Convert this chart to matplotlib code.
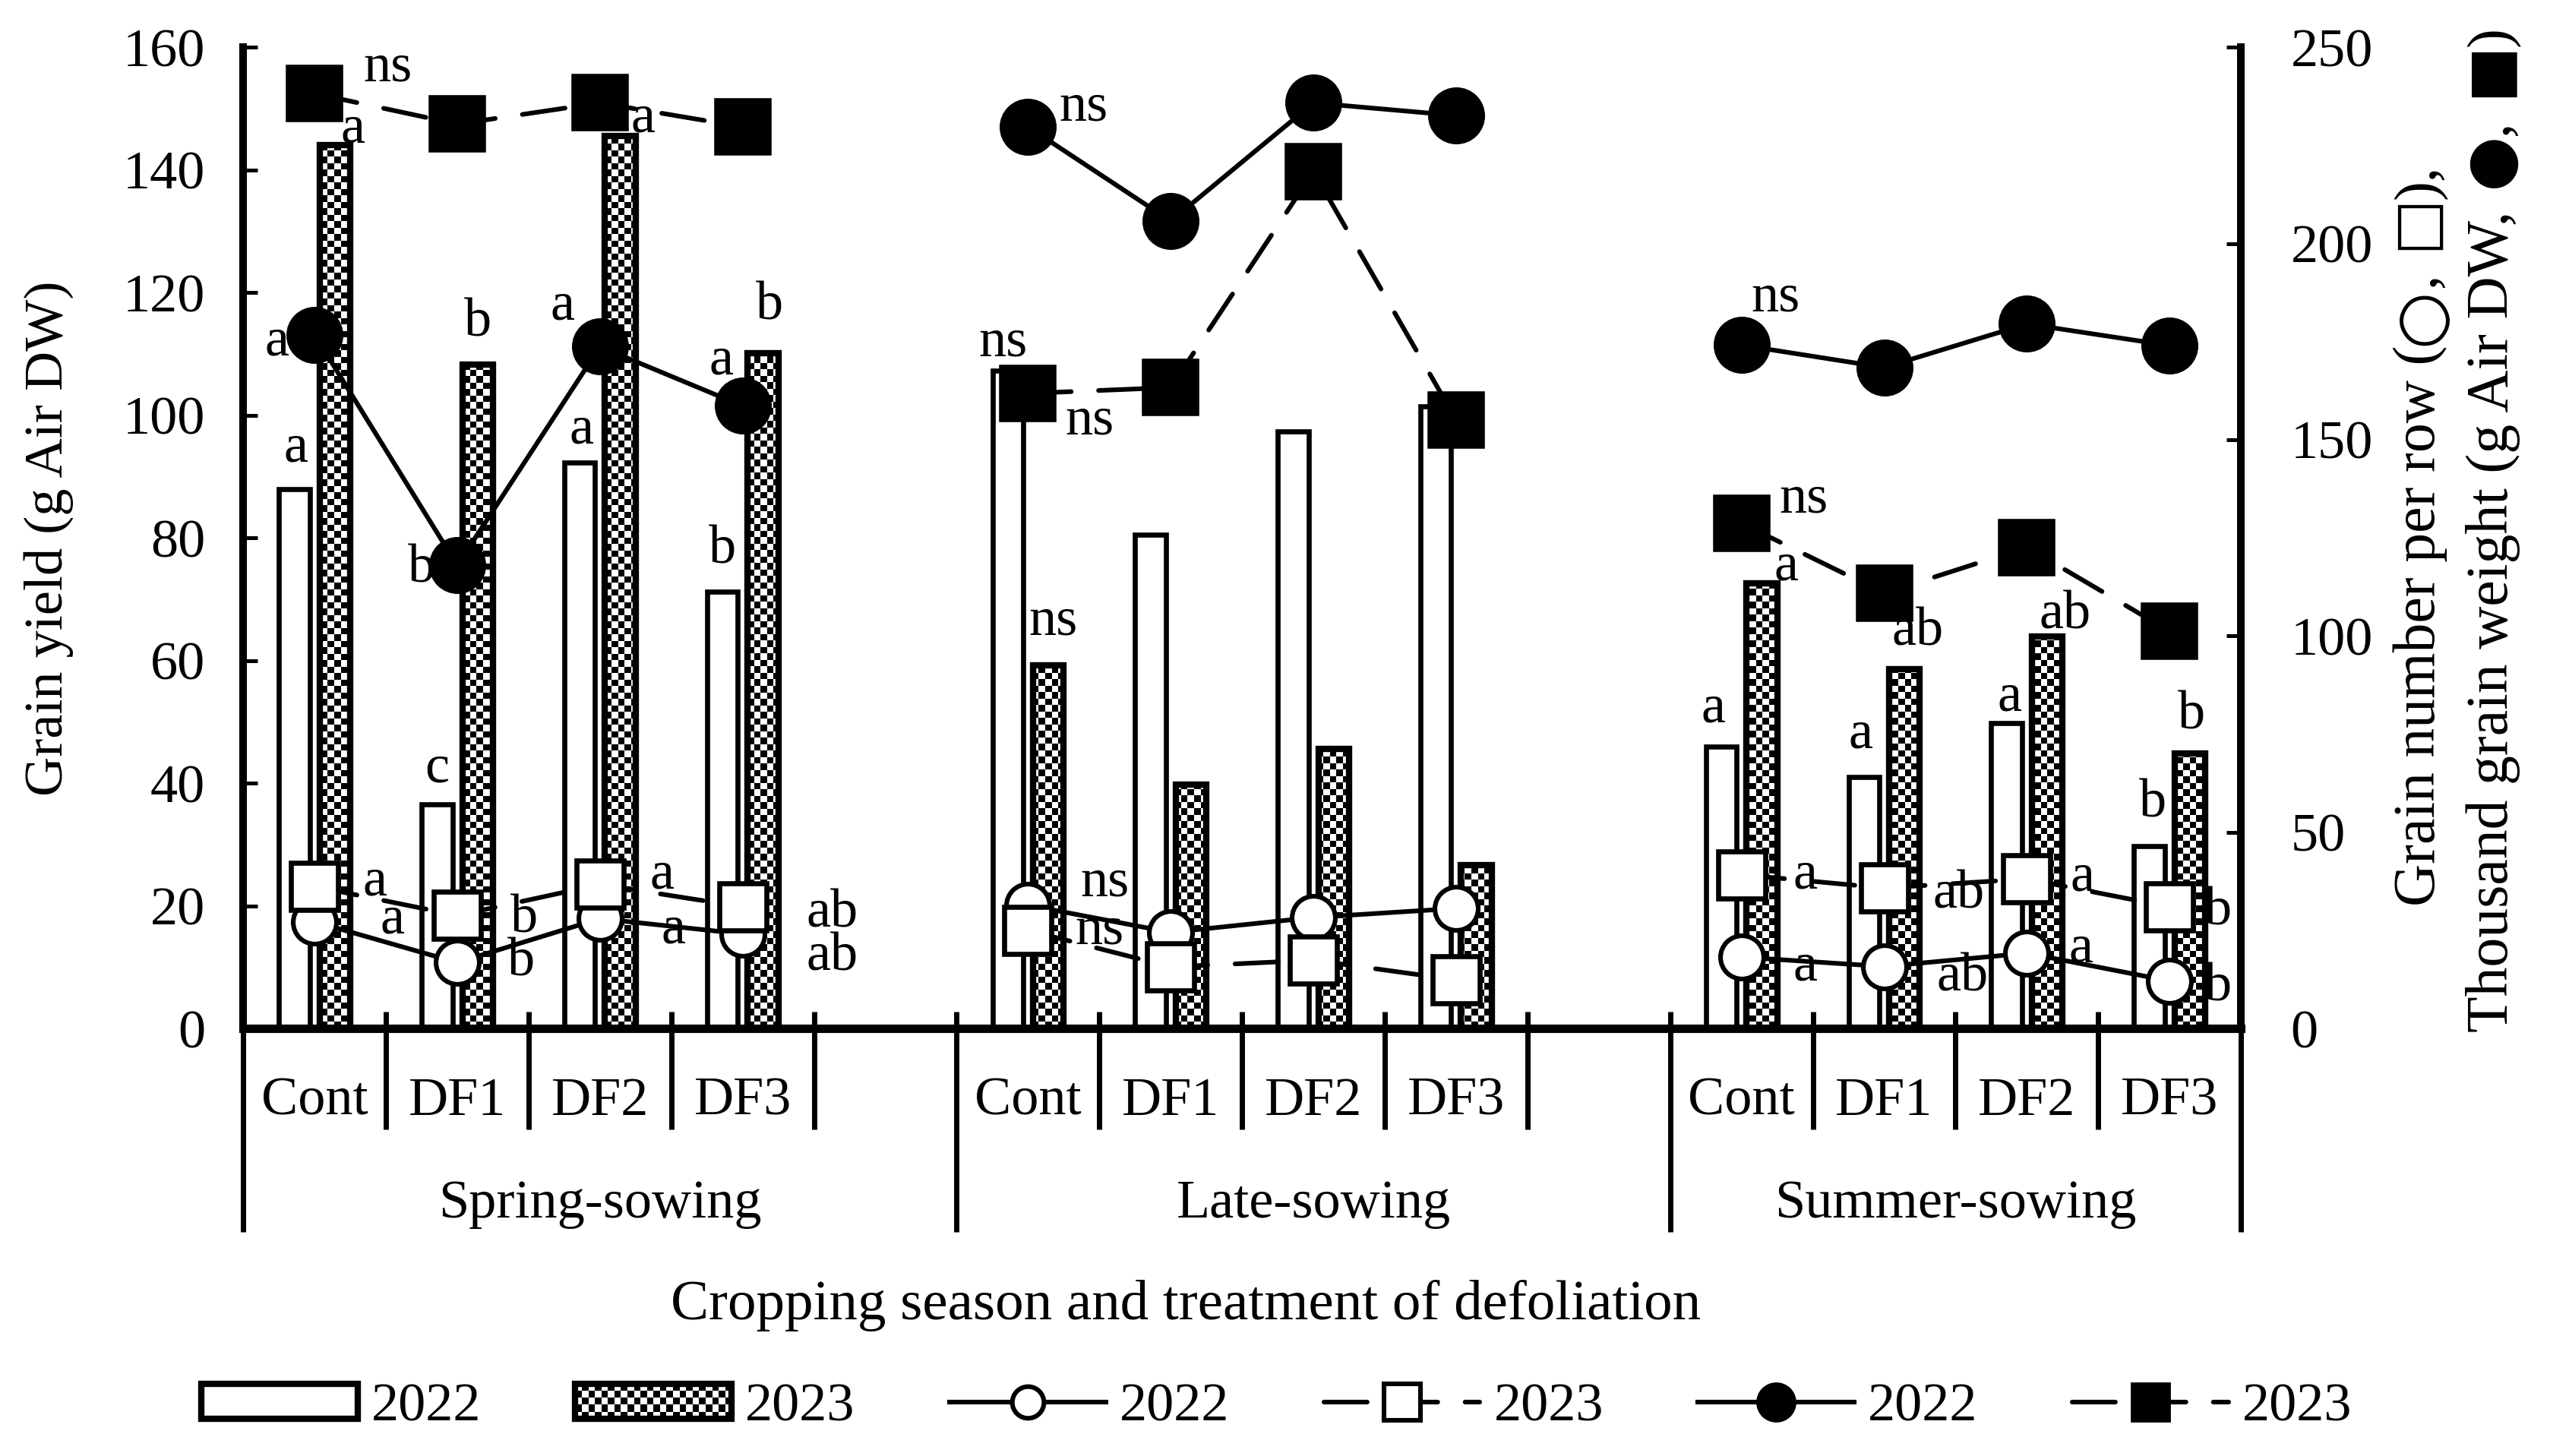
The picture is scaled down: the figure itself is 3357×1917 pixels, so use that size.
"""Grain yield (bars) with grain number per row and thousand grain weight (lines)
for three cropping seasons and four defoliation treatments, 2022 vs 2023."""
import matplotlib

matplotlib.use("Agg")

import matplotlib.pyplot as plt
import numpy as np
from matplotlib.legend_handler import HandlerBase
from matplotlib.lines import Line2D
from matplotlib.patches import Rectangle

# ---- data -------------------------------------------------------------------
GROUPS = ["Spring-sowing", "Late-sowing", "Summer-sowing"]
TREATMENTS = ["Cont", "DF1", "DF2", "DF3"]
YEARS = ["2022", "2023"]

# grain yield, g Air DW (left axis), order: Spring x4, Late x4, Summer x4
YIELD_2022 = [88.0, 36.5, 92.3, 71.2, 107.3, 80.5, 97.3, 101.5, 46.0, 41.0, 49.8, 29.8]
YIELD_2023 = [144.0, 108.2, 145.5, 110.1, 59.2, 39.8, 45.6, 26.7, 72.6, 58.6, 63.9, 44.9]

# grain number per row (right axis)
GN_2022 = [27.2, 16.8, 28.0, 24.1, 31.4, 24.5, 28.3, 30.6, 18.2, 15.8, 19.2, 12.1]
GN_2023 = [36.2, 28.8, 36.7, 31.0, 25.0, 15.7, 17.4, 12.4, 39.2, 35.8, 38.1, 31.0]

# thousand grain weight, g Air DW (right axis)
TGW_2022 = [176.7, 118.0, 173.7, 158.6, 229.7, 205.7, 235.8, 232.6, 174.1, 168.4, 179.5, 174.0]
TGW_2023 = [238.2, 230.4, 235.8, 229.7, 161.8, 163.3, 218.3, 155.1, 128.7, 110.9, 122.6, 101.2]

# significance letters
SIG_YIELD_2022 = ["a", "c", "a", "b", "ns", "", "", "", "a", "a", "a", "b"]
SIG_YIELD_2023 = ["a", "b", "a", "b", "ns", "", "", "", "a", "ab", "ab", "b"]
SIG_GN_2022 = ["a", "b", "a", "ab", "ns", "", "", "", "a", "ab", "a", "b"]
SIG_GN_2023 = ["a", "b", "a", "ab", "ns", "", "", "", "a", "ab", "a", "b"]
SIG_TGW_2022 = ["a", "b", "a", "a", "ns", "", "", "", "ns", "", "", ""]
SIG_TGW_2023 = ["ns", "", "", "", "ns", "", "", "", "ns", "", "", ""]

# ---- label placement (offsets from the mark, in reference pixels) ------------
OFF_YIELD_2022 = [(1, -25), (0, -22), (1, -20), (0, -26), (-3, -17), None, None, None,
                  (-5, -23), (-2, -26), (2, -16), (2, -26)]
OFF_YIELD_2023 = [(11, -10), (0, -26), (14, -11), (4, -29), (3, -27), None, None, None,
                  (15, -10), (8, -23), (11, -13), (1, -23)]
OFF_GN_2022 = [(48, -1), (39, 0), (45, 7), (55, 14), (47, -14), None, None, None,
               (39, 6), (48, 7), (33, -3), (30, 4)]
OFF_GN_2023 = [(37, -3), (41, 2), (38, -6), (55, 4), (44, 0), None, None, None,
               (39, 0), (46, 4), (34, -1), (30, 3)]
OFF_TGW_2022 = [(-23, 4), (-22, 2), (-23, -25), (-13, -28), (34, -12), None, None, None,
                (21, -29), None, None, None]
OFF_TGW_2023 = [(45, -16), None, None, None, (38, 17), None, None, None,
                (38, -15), None, None, None]

PX = 0.7707          # one reference pixel in points
FS = 26
FS_R = 28            # right-hand axis title
INK = "black"
SERIF = ["Liberation Serif", "DejaVu Serif"]
SYMB = ["DejaVu Sans"]

plt.rcParams["font.family"] = SERIF
plt.rcParams["font.size"] = FS

n_t = len(TREATMENTS)
slot = np.array([g * (n_t + 1) + t for g in range(len(GROUPS)) for t in range(n_t)], float)
n_slots = len(GROUPS) * (n_t + 1) - 1


def spread(values):
    """Put 12 values on the 14-slot axis, NaN in the gaps between seasons."""
    out = np.full(n_slots, np.nan)
    out[slot.astype(int)] = values
    return out


x_line = np.arange(n_slots, dtype=float)

fig = plt.figure(figsize=(3357 / 200, 1917 / 200), dpi=200)
ax = fig.add_axes([0.0954, 0.2936, 0.8788 - 0.0954, 0.9676 - 0.2936])
ax2 = ax.twinx()

ax.set_xlim(-0.5, n_slots - 0.5)
ax.set_ylim(0, 160)
ax2.set_ylim(0, 250)

# ---- bars ---------------------------------------------------------------------
BW, OFF = 0.215, 0.142
ax.bar(slot - OFF, YIELD_2022, BW, facecolor="white", edgecolor=INK, linewidth=2.4, zorder=2)
faces = ax.bar(slot + OFF, YIELD_2023, BW, facecolor="white", edgecolor="none", zorder=2)
ax.bar(slot + OFF, YIELD_2023, BW, fill=False, edgecolor=INK, linewidth=3.0, zorder=2.2)

ny, nx = 152, 309
checker = (np.add.outer(np.arange(ny), np.arange(nx)) % 2).astype(float)
xl, yl = ax.get_xlim(), ax.get_ylim()
for bar in faces:
    im = ax.imshow(checker, cmap="gray_r", vmin=0, vmax=1, extent=(*xl, *yl),
                   aspect="auto", interpolation="nearest", zorder=2.1)
    im.set_clip_path(bar)
ax.set_xlim(*xl)
ax.set_ylim(*yl)

# ---- lines (right axis) ------------------------------------------------------
LW = 2.2
DASH = (0, (9.3, 5.9))
ax2.plot(x_line, spread(GN_2022), color=INK, lw=LW, marker="o", ms=20.5, mfc="white",
         mec=INK, mew=2.2, zorder=3)
ax2.plot(x_line, spread(GN_2023), color=INK, lw=LW, ls=DASH, dash_capstyle="round",
         marker="s", ms=22, mfc="white", mec=INK, mew=2.4, zorder=4)
ax2.plot(x_line, spread(TGW_2022), color=INK, lw=LW, marker="o", ms=25, mfc=INK,
         mec=INK, mew=2, zorder=5)
ax2.plot(x_line, spread(TGW_2023), color=INK, lw=LW, ls=DASH, dash_capstyle="round",
         marker="s", ms=25, mfc=INK, mec=INK, mew=2, zorder=6)


# ---- significance letters ----------------------------------------------------
def letters(xs, ys, texts, offsets, trans):
    for x, y, s, off in zip(xs, ys, texts, offsets):
        if not s or off is None:
            continue
        ax2.annotate(s, xy=(x, y), xycoords=trans, xytext=(off[0] * PX, -off[1] * PX),
                     textcoords="offset points", ha="center", va="center",
                     fontsize=FS, zorder=10, annotation_clip=False)


letters(slot - OFF, YIELD_2022, SIG_YIELD_2022, OFF_YIELD_2022, ax.transData)
letters(slot + OFF, YIELD_2023, SIG_YIELD_2023, OFF_YIELD_2023, ax.transData)
letters(slot, GN_2022, SIG_GN_2022, OFF_GN_2022, ax2.transData)
letters(slot, GN_2023, SIG_GN_2023, OFF_GN_2023, ax2.transData)
letters(slot, TGW_2022, SIG_TGW_2022, OFF_TGW_2022, ax2.transData)
letters(slot, TGW_2023, SIG_TGW_2023, OFF_TGW_2023, ax2.transData)

# ---- axes styling -------------------------------------------------------------
for a in (ax, ax2):
    a.spines["top"].set_visible(False)
    for side in ("left", "right", "bottom"):
        a.spines[side].set_linewidth(3.6)
        a.spines[side].set_color(INK)
    a.tick_params(axis="x", bottom=False, labelbottom=False)
ax.spines["bottom"].set_linewidth(4.0)

ax.set_yticks(np.arange(0, 161, 20))
ax2.set_yticks(np.arange(0, 251, 50))
ax.tick_params(axis="y", direction="in", length=7, width=1.8, pad=18, labelsize=FS)
ax2.tick_params(axis="y", direction="in", length=7, width=1.8, pad=23.5, labelsize=FS)

# multi-level category axis drawn by hand
xt = ax.get_xaxis_transform()
edges = (-0.5, n_slots - 0.5)
for b in np.arange(-0.5, n_slots, 1.0):
    long = b in edges or (b + 0.5) % (n_t + 1) == 0
    y_low = -0.207 if long else -0.103
    y_top = 0.0 if b in edges else 0.017
    ax.plot([b, b], [y_top, y_low], transform=xt, color=INK, lw=2.5,
            solid_capstyle="butt", clip_on=False, zorder=7)
for i, x in enumerate(slot):
    ax.text(x, -0.088, TREATMENTS[i % n_t], transform=xt, ha="center", va="baseline",
            fontsize=FS)
for g, name in enumerate(GROUPS):
    left = -0.5 + g * (n_t + 1)
    right = min(left + n_t + 1, n_slots - 0.5)
    ax.text((left + right) / 2, -0.1926, name, transform=xt, ha="center",
            va="baseline", fontsize=FS)

fig.text(0.465, 0.0939, "Cropping season and treatment of defoliation",
         ha="center", va="baseline", fontsize=27)
fig.text(0.0191, 0.630, "Grain yield (g Air DW)", rotation=90, ha="center",
         va="center", fontsize=FS)


def stacked_label(x, y_center, pieces):
    """Rotated label built from pieces that need their own font and size."""
    renderer = fig.canvas.get_renderer()
    parts = []
    for s, size, fam in pieces:
        t = fig.text(x, 0, s, rotation=90, ha="center", va="bottom",
                     fontsize=size, family=fam)
        parts.append((t, t.get_window_extent(renderer).height / fig.bbox.height))
    y = y_center - sum(h for _, h in parts) / 2
    for t, h in parts:
        t.set_y(y)
        y += h


stacked_label(0.949, 0.6324, [("Grain number per row (", FS_R, SERIF), ("○", 31, SYMB),
                              (",", FS_R, SERIF), (" □", 28, SYMB), ("),", FS_R, SERIF)])
stacked_label(0.9777, 0.6363, [("Thousand grain weight (g Air DW,", FS_R, SERIF),
                               (" ●", 30, SYMB), (",", FS_R, SERIF), (" ■", 28, SYMB),
                               (")", FS_R, SERIF)])


# ---- legend -------------------------------------------------------------------
class CheckerHandler(HandlerBase):
    def create_artists(self, legend, orig_handle, xdescent, ydescent, width, height,
                       fontsize, trans):
        x0, y0 = -xdescent, -ydescent
        cols = max(1, int(round(width / 3.1)))
        rows = max(1, int(round(height / 3.1)))
        cw, ch = width / cols, height / rows
        arts = [Rectangle((x0, y0), width, height, facecolor="white",
                          edgecolor="none", transform=trans)]
        for i in range(cols):
            for j in range(rows):
                if (i + j) % 2:
                    arts.append(Rectangle((x0 + i * cw, y0 + j * ch), cw, ch,
                                          facecolor=INK, edgecolor="none",
                                          transform=trans))
        arts.append(Rectangle((x0, y0), width, height, fill=False, edgecolor=INK,
                              linewidth=3.0, transform=trans))
        return arts


h_bar22 = Rectangle((0, 0), 1, 1, facecolor="white", edgecolor=INK, linewidth=3.0)
h_bar23 = Rectangle((0, 0), 1, 1)
h_gn22 = Line2D([], [], color=INK, lw=LW, marker="o", ms=15, mfc="white", mec=INK, mew=2.2)
h_gn23 = Line2D([], [], color=INK, lw=LW, ls=DASH, dash_capstyle="round", marker="s",
                ms=17, mfc="white", mec=INK, mew=2.2)
h_tgw22 = Line2D([], [], color=INK, lw=LW, marker="o", ms=18, mfc=INK, mec=INK)
h_tgw23 = Line2D([], [], color=INK, lw=LW, ls=DASH, dash_capstyle="round", marker="s",
                 ms=18, mfc=INK, mec=INK)
fig.legend([h_bar22, h_bar23, h_gn22, h_gn23, h_tgw22, h_tgw23], YEARS * 3,
           handler_map={h_bar23: CheckerHandler()},
           loc="center", bbox_to_anchor=(0.5006, 0.0335), ncol=6, frameon=False,
           fontsize=FS, handlelength=2.85, handleheight=0.61, handletextpad=0.25,
           columnspacing=1.72, borderpad=0, borderaxespad=0)

fig.savefig("out.png", dpi=200)
